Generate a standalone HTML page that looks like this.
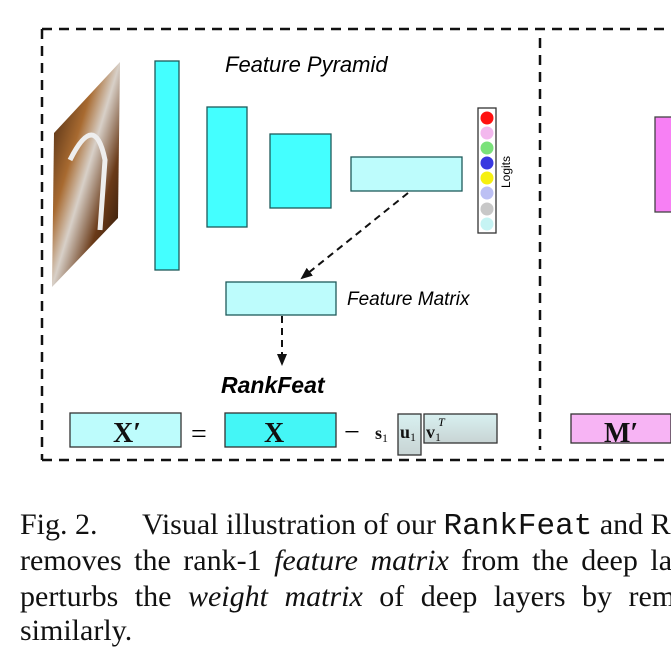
<!DOCTYPE html>
<html><head><meta charset="utf-8"><style>
html,body{margin:0;padding:0;background:#fff;width:671px;height:671px;overflow:hidden;position:relative}
.cap{position:absolute;left:20px;font-family:"Liberation Serif",serif;font-size:30px;white-space:nowrap;color:#111;line-height:34px}
.m{font-family:"Liberation Mono",monospace;font-size:31px}
</style></head><body>
<svg width="671" height="671" style="position:absolute;left:0;top:0">
<defs>
<linearGradient id="img" x1="0" y1="0" x2="1" y2="1">
<stop offset="0" stop-color="#2a1408"/><stop offset="0.35" stop-color="#a86a30"/><stop offset="0.5" stop-color="#d8d0c8"/><stop offset="0.7" stop-color="#6a3a18"/><stop offset="1" stop-color="#140a04"/>
</linearGradient>
<linearGradient id="vg" x1="0" y1="0" x2="0" y2="1"><stop offset="0" stop-color="#d8f0f0"/><stop offset="1" stop-color="#c8d4d4"/></linearGradient>
<marker id="ah" markerUnits="userSpaceOnUse" markerWidth="12" markerHeight="10" refX="10" refY="5" orient="auto"><path d="M0,0 L12,5 L0,10 z" fill="#111"/></marker>
</defs>
<g stroke="#111" stroke-width="2.5" stroke-dasharray="10,7" fill="none">
<line x1="42" y1="29" x2="671" y2="29"/>
<line x1="42" y1="460" x2="671" y2="460"/>
<line x1="42" y1="29" x2="42" y2="460"/>
<line x1="540" y1="38" x2="540" y2="450"/>
</g>
<polygon points="54,133 120,62 118,218 52,287" fill="url(#img)"/>
<path d="M70,160 Q95,110 105,160 L100,230" stroke="#eee" stroke-width="5" fill="none"/>
<g stroke="#1e5a5a" stroke-width="1.3">
<rect x="155" y="61" width="24" height="209" fill="#44ffff"/>
<rect x="207" y="107" width="40" height="120" fill="#44ffff"/>
<rect x="270" y="134" width="61" height="74" fill="#44ffff"/>
<rect x="351" y="157" width="111" height="34" fill="#bdfcfc"/>
<rect x="226" y="282" width="110" height="33" fill="#bdfcfc"/>
</g>
<rect x="478" y="108" width="18" height="125" fill="#fff" stroke="#333" stroke-width="1.3"/>
<g>
<circle cx="487" cy="118" r="6.5" fill="#ff1010"/>
<circle cx="487" cy="133" r="6.5" fill="#f3b8ee"/>
<circle cx="487" cy="148" r="6.5" fill="#7ae27a"/>
<circle cx="487" cy="163" r="6.5" fill="#3838e0"/>
<circle cx="487" cy="178" r="6.5" fill="#f6f010"/>
<circle cx="487" cy="193" r="6.5" fill="#bcc0f4"/>
<circle cx="487" cy="209" r="6.5" fill="#c8c8c8"/>
<circle cx="487" cy="224" r="6.5" fill="#c6f4f4"/>
</g>
<text x="0" y="0" transform="translate(510,188) rotate(-90)" font-family="Liberation Sans" font-size="12">Logits</text>
<text x="225" y="72" font-family="Liberation Sans" font-style="italic" font-size="22">Feature Pyramid</text>
<text x="347" y="305" font-family="Liberation Sans" font-style="italic" font-size="19">Feature Matrix</text>
<text x="221" y="393" font-family="Liberation Sans" font-style="italic" font-weight="bold" font-size="23">RankFeat</text>
<g stroke="#111" stroke-width="2" stroke-dasharray="7,5" fill="none">
<line x1="408" y1="193" x2="302" y2="278" marker-end="url(#ah)"/>
<line x1="282" y1="316" x2="282" y2="364" marker-end="url(#ah)"/>
</g>
<rect x="655" y="117" width="20" height="95" fill="#f780f4" stroke="#444" stroke-width="1.3"/>
<g stroke="#333" stroke-width="1.3">
<rect x="70" y="413" width="111" height="34" fill="#bdfcfc"/>
<rect x="225" y="413" width="111" height="34" fill="#44f6f6"/>
<rect x="398" y="414" width="23" height="41" fill="url(#vg)"/>
<rect x="424" y="414" width="73" height="29" fill="url(#vg)"/>
<rect x="571" y="414" width="100" height="29" fill="#f7b4f4"/>
</g>
<g font-family="Liberation Serif" font-weight="bold" fill="#111">
<text x="113" y="442" font-size="28">X′</text>
<text x="264" y="442" font-size="28">X</text>
<text x="604" y="442" font-size="28">M′</text>
<text x="375" y="439" font-size="18">s<tspan font-size="12" font-weight="normal" dy="3">1</tspan></text>
<text x="400" y="438" font-size="18">u<tspan font-size="12" font-weight="normal" dy="3">1</tspan></text>
<text x="426" y="438" font-size="18">v<tspan font-size="12" font-weight="normal" dy="3">1</tspan></text>
</g>
<text x="438" y="426" font-family="Liberation Serif" font-style="italic" font-size="12">T</text>
<text x="191" y="443" font-family="Liberation Serif" font-size="28">=</text>
<text x="344" y="441" font-family="Liberation Serif" font-size="28">−</text>
</svg>
<div class="cap" style="top:508px">Fig. 2.&nbsp;&nbsp;&nbsp;&nbsp;&nbsp; Visual illustration of our <span class="m">RankFeat</span> and R</div>
<div class="cap" style="top:544px;word-spacing:5px">removes the rank-1 <i>feature matrix</i> from the deep la</div>
<div class="cap" style="top:580px;word-spacing:9px">perturbs the <i>weight matrix</i> of deep layers by rem</div>
<div class="cap" style="top:614px">similarly.</div>
</body></html>
